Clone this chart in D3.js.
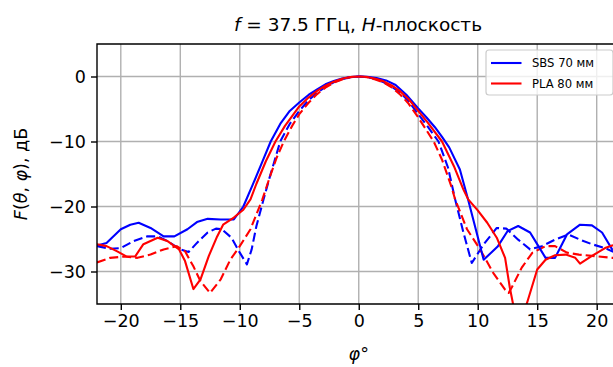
<!DOCTYPE html>
<html>
<head>
<meta charset="utf-8">
<script src="https://cdn.jsdelivr.net/npm/d3@7"></script>
<style>
  body { margin: 0; background: #fff; }
  svg { display: block; font-family: "DejaVu Sans", sans-serif; }
</style>
</head>
<body>
<svg width="613" height="367"></svg>
<script>
/************************** DATA **************************/
// blue solid: SBS 70 mm
var sbsPhi = [-22, -21.2, -20, -19.2, -18.5, -17.5, -16.4, -15.5, -14.4, -13.6, -12.7, -11.6, -10.5, -9.7, -8.9, -8.1, -7.4, -6.6, -5.8, -5.0, -4.2, -3.5, -2.8, -2.1, -1.4, -0.7, 0, 0.7, 1.5, 2.3, 3.1, 4.0, 5.0, 5.7, 6.4, 7.0, 7.6, 8.5, 9.2, 10.5, 11.7, 12.5, 13.4, 14.4, 15.1, 15.7, 16.5, 17.5, 18.6, 19.6, 20.45, 21.3, 22];
var sbsDb  = [-26.0, -25.6, -23.5, -22.8, -22.5, -23.3, -24.6, -24.6, -23.5, -22.4, -21.9, -22.0, -22.0, -20.0, -16.6, -13.1, -10.0, -7.3, -5.3, -4.0, -2.8, -2.0, -1.2, -0.7, -0.3, -0.08, 0, -0.05, -0.25, -0.6, -1.3, -2.8, -4.9, -6.3, -7.8, -9.3, -10.9, -14.3, -19.0, -28.2, -26.1, -23.8, -23.0, -24.0, -26.1, -27.9, -27.9, -24.3, -22.8, -22.9, -24.0, -26.6, -27.3];

// blue dashed
var sbsDashPhi = [-22, -20.9, -20.0, -18.9, -17.8, -16.9, -16.1, -15.0, -14.3, -13.6, -12.7, -12.0, -11.5, -10.7, -10.0, -9.4, -9.0, -8.6, -8.0, -7.5, -6.6, -5.8, -5.0, -4.2, -3.5, -2.8, -2.1, -1.4, -0.7, 0, 0.7, 1.4, 2.1, 2.8, 3.5, 4.2, 5.0, 5.8, 6.7, 7.5, 8.1, 8.8, 9.5, 10.5, 11.6, 12.4, 13.4, 14.4, 15.4, 16.5, 17.6, 18.6, 19.6, 20.7, 21.3, 22];
var sbsDashDb  = [-26.1, -26.5, -26.4, -25.3, -24.6, -24.6, -25.3, -26.6, -27.0, -25.6, -24.0, -23.4, -23.5, -24.8, -27.1, -28.9, -26.6, -23.0, -18.9, -15.6, -10.0, -7.3, -5.3, -3.6, -2.5, -1.6, -0.9, -0.4, -0.1, 0, -0.1, -0.4, -0.9, -1.6, -2.5, -3.8, -5.8, -7.7, -10.0, -14.0, -18.9, -24.0, -28.7, -25.8, -23.3, -23.4, -25.1, -26.6, -26.1, -25.1, -24.3, -25.1, -25.8, -26.4, -26.9, -27.3];

// red solid: PLA 80 mm
var plaPhi = [-22, -21.2, -20.3, -19.5, -18.8, -18.1, -16.9, -16.1, -15.1, -14.6, -13.9, -13.3, -12.6, -11.9, -11.4, -10.5, -9.7, -9.1, -8.6, -7.8, -7.0, -6.2, -5.0, -4.2, -3.5, -2.8, -2.1, -1.4, -0.7, 0, 0.7, 1.4, 2.1, 2.8, 3.5, 4.2, 5.0, 5.8, 7.0, 8.0, 8.8, 9.2, 10.0, 10.8, 11.6, 12.3, 12.7, 13.4, 14.2, 15.0, 15.7, 16.5, 17.4, 18.2, 18.6, 19.6, 20.7, 21.3, 22];
var plaDb  = [-25.8, -26.1, -26.9, -27.7, -27.7, -25.8, -24.8, -25.3, -26.6, -28.4, -32.7, -31.2, -27.6, -24.6, -22.8, -21.7, -20.5, -18.9, -16.5, -13.0, -10.0, -7.6, -4.6, -3.2, -2.2, -1.4, -0.8, -0.35, -0.08, 0, -0.08, -0.35, -0.75, -1.4, -2.3, -3.5, -5.3, -7.1, -10.0, -13.8, -17.4, -18.9, -20.6, -22.5, -24.8, -27.9, -32.5, -39.0, -34.5, -29.7, -28.2, -27.5, -27.4, -27.9, -28.8, -27.6, -26.4, -26.0, -25.8];

// red dashed
var plaDashPhi = [-22, -20.9, -19.7, -18.6, -17.5, -16.4, -15.3, -14.6, -13.9, -13.3, -12.5, -11.6, -10.8, -10.0, -9.1, -8.1, -7.5, -6.9, -6.3, -5.6, -5.0, -4.2, -3.5, -2.8, -2.1, -1.4, -0.7, 0, 0.7, 1.4, 2.1, 2.8, 3.5, 4.2, 5.0, 5.6, 6.3, 7.0, 7.8, 8.1, 9.1, 10.2, 11.3, 12.3, 12.6, 12.9, 13.7, 14.6, 15.7, 16.5, 17.5, 18.5, 19.6, 21.3, 22];
var plaDashDb  = [-28.6, -27.9, -27.7, -27.9, -27.4, -26.6, -26.1, -26.9, -29.2, -31.5, -33.3, -31.2, -28.2, -26.1, -23.5, -18.9, -15.6, -12.5, -10.0, -7.6, -5.8, -4.0, -2.7, -1.7, -0.95, -0.45, -0.1, 0, -0.1, -0.45, -0.95, -1.7, -2.8, -4.2, -6.3, -8.0, -10.0, -12.8, -17.0, -18.9, -23.5, -26.6, -30.2, -32.8, -33.3, -32.3, -29.4, -27.1, -26.1, -26.1, -27.1, -27.4, -27.6, -27.9, -28.0];

var xTicks = [-20, -15, -10, -5, 0, 5, 10, 15, 20];
var yTicks = [0, -10, -20, -30];
var legendLabels = ["SBS 70 мм", "PLA 80 мм"];

/************************** LAYOUT **************************/
// plot area runs past the right edge of the picture (cropped like the reference)
// (no "top" as a global name: window.top is read-only)
var axL = 97, axT = 44, axR = 620.5, axB = 304;
var tickLen = 6;
var tickFont = 17.5;

var svg = d3.select("svg");
svg.append("rect").attr("width", 613).attr("height", 367).attr("fill", "#fff");

var x = d3.scaleLinear().domain([-22, 22]).range([axL, axR]);
var y = d3.scaleLinear().domain([-35, 5]).range([axB, axT]);

// grid
svg.append("g").selectAll("line").data(xTicks).join("line")
  .attr("x1", function(d) { return x(d); }).attr("x2", function(d) { return x(d); })
  .attr("y1", axT).attr("y2", axB)
  .attr("stroke", "#b0b0b0").attr("stroke-width", 1.4);
svg.append("g").selectAll("line").data(yTicks).join("line")
  .attr("x1", axL).attr("x2", axR)
  .attr("y1", function(d) { return y(d); }).attr("y2", function(d) { return y(d); })
  .attr("stroke", "#b0b0b0").attr("stroke-width", 1.4);

// curves, clipped to the axes
svg.append("clipPath").attr("id", "plotclip")
  .append("rect").attr("x", axL).attr("y", axT).attr("width", axR - axL).attr("height", axB - axT);

var line = d3.line()
  .x(function(d) { return x(d[0]); })
  .y(function(d) { return y(d[1]); });

var series = [
  {phi: sbsDashPhi, db: sbsDashDb, color: "#0000ff", dash: "9,4"},
  {phi: plaDashPhi, db: plaDashDb, color: "#ff0000", dash: "9,4"},
  {phi: sbsPhi, db: sbsDb, color: "#0000ff", dash: null},
  {phi: plaPhi, db: plaDb, color: "#ff0000", dash: null}
];
var curves = svg.append("g").attr("clip-path", "url(#plotclip)");
for (var i = 0; i < series.length; i++) {
  var pts = d3.zip(series[i].phi, series[i].db);
  curves.append("path")
    .attr("d", line(pts))
    .attr("fill", "none")
    .attr("stroke", series[i].color)
    .attr("stroke-width", 2.1)
    .attr("stroke-linejoin", "round")
    .attr("stroke-dasharray", series[i].dash);
}

// axes
var xAxis = svg.append("g").attr("transform", "translate(0," + axB + ")")
  .call(d3.axisBottom(x).tickValues(xTicks).tickSizeOuter(0).tickSize(tickLen).tickPadding(5));
var yAxis = svg.append("g").attr("transform", "translate(" + axL + ",0)")
  .call(d3.axisLeft(y).tickValues(yTicks).tickSizeOuter(0).tickSize(tickLen).tickPadding(5));
[xAxis, yAxis].forEach(function(a) {
  a.select(".domain").remove();
  a.selectAll(".tick line").attr("stroke", "#000").attr("stroke-width", 1.4);
  a.selectAll(".tick text").attr("font-size", tickFont).attr("font-family", "DejaVu Sans").attr("fill", "#000");
});

// spines (left, top, bottom; right one is outside the picture)
svg.append("path")
  .attr("d", "M" + axR + "," + axT + "H" + axL + "V" + axB + "H" + axR)
  .attr("fill", "none").attr("stroke", "#000").attr("stroke-width", 1.4);

// title
var title = svg.append("text").attr("x", 358).attr("y", 31)
  .attr("text-anchor", "middle").attr("font-size", 18.5);
title.append("tspan").attr("font-style", "italic").text("f");
title.append("tspan").text(" = 37.5 ГГц, ");
title.append("tspan").attr("font-style", "italic").text("H");
title.append("tspan").text("-плоскость");

// x label
var xl = svg.append("text").attr("x", x(0)).attr("y", 360)
  .attr("text-anchor", "middle").attr("font-size", tickFont);
xl.append("tspan").attr("font-style", "italic").text("φ");
xl.append("tspan").text("°");

// y label
var yl = svg.append("text")
  .attr("transform", "translate(27," + ((axT + axB) / 2) + ") rotate(-90)")
  .attr("text-anchor", "middle").attr("font-size", tickFont);
yl.append("tspan").attr("font-style", "italic").text("F");
yl.append("tspan").text("(");
yl.append("tspan").attr("font-style", "italic").text("θ");
yl.append("tspan").text(", ");
yl.append("tspan").attr("font-style", "italic").text("φ");
yl.append("tspan").text("), дБ");

// legend
var lg = svg.append("g");
lg.append("rect").attr("x", 486).attr("y", 50).attr("width", 127).attr("height", 45)
  .attr("rx", 3).attr("fill", "#fff").attr("fill-opacity", 0.8)
  .attr("stroke", "#cccccc").attr("stroke-width", 1.2);
var legendColors = ["#0000ff", "#ff0000"];
for (var k = 0; k < legendLabels.length; k++) {
  var ly = 63 + k * 20.5;
  lg.append("line").attr("x1", 491).attr("x2", 521.5).attr("y1", ly).attr("y2", ly)
    .attr("stroke", legendColors[k]).attr("stroke-width", 2.1);
  lg.append("text").attr("x", 532).attr("y", ly + 4.2)
    .attr("font-size", 11.6).text(legendLabels[k]);
}
</script>
</body>
</html>
